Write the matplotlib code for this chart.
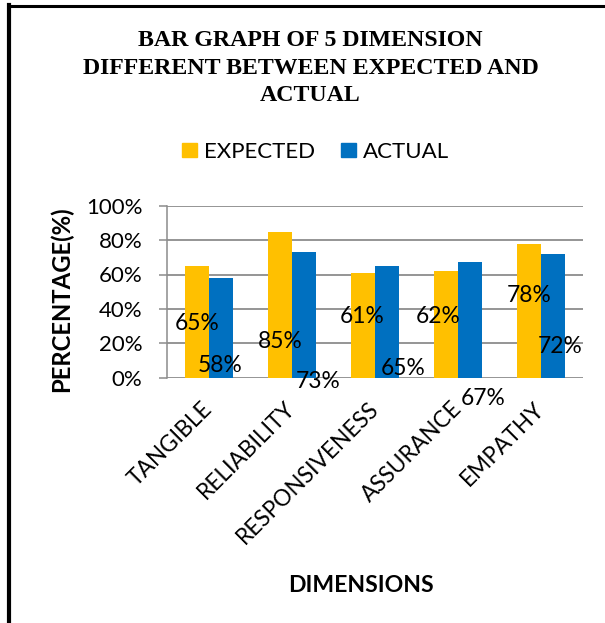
import matplotlib
matplotlib.use("Agg")
import matplotlib.pyplot as plt
import numpy as np
from matplotlib.lines import Line2D
from matplotlib.patches import Patch

dimensions = ["TANGIBLE", "RELIABILITY", "RESPONSIVENESS", "ASSURANCE", "EMPATHY"]
expected = [65, 85, 61, 62, 78]
actual = [58, 73, 65, 67, 72]
yticks = [0, 20, 40, 60, 80, 100]

# the data labels in the original sit in odd places, so keep their spots here
# (x offset from category centre, y in axis units)
exp_lbl_pos = [(-0.146, 31.6), (-0.144, 20.9), (-0.149, 35.5), (-0.239, 35.3), (-0.145, 47.9)]
act_lbl_pos = [(0.136, 6.9), (0.32, -2.3), (0.34, 5.5), (0.303, -12.0), (0.232, 18.0)]

W, H = 605, 623
yellow = "#FFC000"
blue = "#0070C0"
grid_c = "#8c8c8c"
sans = "Lato"

fig = plt.figure(figsize=(W / 100, H / 100), dpi=100)
fig.patch.set_facecolor("white")

# plot area in pixels -> figure fractions
left, right, top, bottom = 167.3, 582.7, 205.7, 377.7
ax = fig.add_axes([left / W, 1 - bottom / H, (right - left) / W, (bottom - top) / H])

x = np.arange(len(dimensions))
bw = 1 / 3.5
ax.bar(x - bw / 2, expected, bw, color=yellow, label="EXPECTED", zorder=3)
ax.bar(x + bw / 2, actual, bw, color=blue, label="ACTUAL", zorder=3)

for i in range(len(dimensions)):
    dx, y = exp_lbl_pos[i]
    ax.text(i + dx, y, f"{expected[i]}%", ha="center", va="center",
            fontsize=16.4, family=sans, zorder=5, clip_on=False)
    dx, y = act_lbl_pos[i]
    ax.text(i + dx, y, f"{actual[i]}%", ha="center", va="center",
            fontsize=16.4, family=sans, zorder=5, clip_on=False)

ax.set_xlim(-0.5, len(dimensions) - 0.5)
ax.set_ylim(0, 100)
ax.set_yticks(yticks)
ax.set_yticklabels([f"{t}%" for t in yticks], family=sans, fontsize=16)
ax.yaxis.grid(True, color=grid_c, linewidth=1.3, zorder=0)
ax.set_xticks(x)
ax.set_xticklabels(dimensions, rotation=45, ha="right", va="center",
                   rotation_mode="anchor", family=sans, fontsize=16.3)
ax.tick_params(axis="x", length=0, pad=20)
ax.tick_params(axis="y", length=6, width=1.1, color=grid_c, pad=12)
for s in ["top", "right", "bottom"]:
    ax.spines[s].set_visible(False)
ax.spines["left"].set_color(grid_c)
ax.spines["left"].set_linewidth(1.1)

# title
fig.text(310.5 / W, 1 - 68 / H,
         "BAR GRAPH OF 5 DIMENSION\nDIFFERENT BETWEEN EXPECTED AND\nACTUAL",
         ha="center", va="center", family="Liberation Serif", fontweight="bold",
         fontsize=17.2, linespacing=1.38)

# legend
handles = [Patch(color=yellow), Patch(color=blue)]
fig.legend(handles, ["EXPECTED", "ACTUAL"], loc="center", ncol=2,
           bbox_to_anchor=(315.5 / W, 1 - 152 / H), frameon=False,
           prop={"family": sans, "size": 16}, handlelength=0.68,
           handleheight=0.63, handletextpad=0.3, columnspacing=1.2)

fig.text(61.7 / W, 1 - 299 / H, "PERCENTAGE(%)", rotation=90, ha="center", va="center",
         family=sans, fontweight="bold", fontsize=17.2)
fig.text(361 / W, 1 - 586 / H, "DIMENSIONS", ha="center", va="center",
         family=sans, fontweight="bold", fontsize=16.6)

# page border lines around the chart
fig.add_artist(Line2D([8.5 / W, 1], [1 - 6 / H, 1 - 6 / H], color="black",
                      linewidth=2.2, transform=fig.transFigure))
fig.add_artist(Line2D([9 / W, 9 / W], [1 - 5 / H, 0], color="black",
                      linewidth=3, transform=fig.transFigure))

fig.savefig("out.png", dpi=100)
